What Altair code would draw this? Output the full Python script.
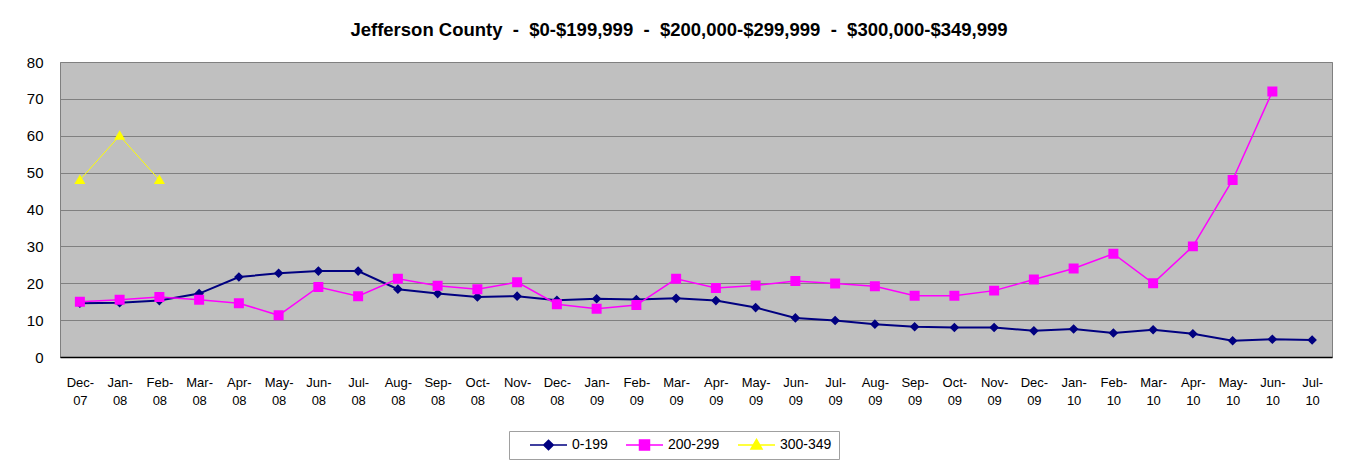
import altair as alt
import pandas as pd

months = ["Dec-07", "Jan-08", "Feb-08", "Mar-08", "Apr-08", "May-08", "Jun-08", "Jul-08",
          "Aug-08", "Sep-08", "Oct-08", "Nov-08", "Dec-08", "Jan-09", "Feb-09", "Mar-09",
          "Apr-09", "May-09", "Jun-09", "Jul-09", "Aug-09", "Sep-09", "Oct-09", "Nov-09",
          "Dec-09", "Jan-10", "Feb-10", "Mar-10", "Apr-10", "May-10", "Jun-10", "Jul-10"]

series_names = ["0-199", "200-299", "300-349"]

v_0_199 = [14.6, 14.7, 15.3, 17.2, 21.7, 22.7, 23.3, 23.3, 18.4, 17.2, 16.3, 16.5, 15.4,
           15.8, 15.6, 15.9, 15.3, 13.4, 10.6, 9.9, 8.9, 8.2, 8.0, 8.0, 7.1,
           7.6, 6.5, 7.4, 6.3, 4.4, 4.8, 4.6]
v_200_299 = [15.0, 15.5, 16.3, 15.5, 14.6, 11.3, 19.0, 16.5, 21.2, 19.3, 18.4, 20.3, 14.3,
             13.1, 14.1, 21.2, 18.7, 19.4, 20.6, 19.9, 19.2, 16.6, 16.6, 18.0, 21.0,
             24.0, 28.0, 20.0, 30.0, 48.0, 72.0, None]
v_300_349 = [48.0, 60.0, 48.0] + [None] * 29

colors = ["#000080", "#FF00FF", "#FFFF00"]
line_widths = [2, 1.5, 1]
marker_paths = [
    "M-1,0H1M0,-0.26L0.26,0L0,0.26L-0.26,0Z",
    "M-1,0H1M-0.27,-0.27H0.27V0.27H-0.27Z",
    "M-1,0H1M0,-0.3L0.3,0.22H-0.3Z",
]

rows = []
for name, vals in zip(series_names, [v_0_199, v_200_299, v_300_349]):
    for m, v in zip(months, vals):
        if v is not None:
            rows.append({"month": m, "series": name, "value": v})
df = pd.DataFrame(rows)

FONT = "Liberation Sans"
NB = "\u00a0"
title_text = f"Jefferson County{NB}{NB}-{NB}{NB}$0-$199,999{NB}{NB}-{NB}{NB}$200,000-$299,999{NB}{NB}-{NB}{NB}$300,000-$349,999"

x_enc = alt.X(
    "month:O", sort=months, scale=alt.Scale(domain=months),
    axis=alt.Axis(title=None, labelAngle=0, ticks=False, grid=False,
                  domainColor="#000000", domainWidth=1.5,
                  labelExpr="[slice(datum.label, 0, 4), slice(datum.label, 4)]",
                  labelFont=FONT, labelFontSize=13, labelColor="#000000",
                  labelPadding=19, labelLineHeight=18, labelOverlap=False,
                  labelFlush=False),
)
y_enc = alt.Y(
    "value:Q", scale=alt.Scale(domain=[0, 80], nice=False),
    axis=alt.Axis(title=None, values=list(range(0, 81, 10)), ticks=False, domain=False,
                  grid=True, gridColor="#808080", gridWidth=1,
                  labelFont=FONT, labelFontSize=15, labelColor="#000000",
                  labelPadding=17),
)

legend_def = alt.Legend(
    title=None, orient="none", legendX=449, legendY=369, direction="horizontal",
    symbolSize=1369, symbolStrokeWidth=1.5, clipHeight=14,
    symbolOffset=13, labelOffset=4, columnPadding=4,
    labelExpr="datum.label == '300-349' ? datum.label + '\u00a0\u00a0\u00a0\u00a0\u00a0\u00a0\u00a0' : datum.label",
    labelFont=FONT, labelFontSize=14, labelColor="#000000",
    strokeColor="#A0A0A0", fillColor="#FFFFFF", padding=7,
)

base = alt.Chart(df)
line_layers = [
    base.transform_filter(alt.datum.series == name).mark_line(color=col, strokeWidth=w).encode(
        x=x_enc, y=y_enc)
    for name, col, w in zip(series_names, colors, line_widths)
]

points = base.mark_point(filled=True, size=1369, opacity=1).encode(
    x=x_enc, y=y_enc,
    fill=alt.Fill("series:N", scale=alt.Scale(domain=series_names, range=colors), legend=legend_def),
    stroke=alt.Stroke("series:N", scale=alt.Scale(domain=series_names, range=colors), legend=legend_def),
    shape=alt.Shape("series:N", scale=alt.Scale(domain=series_names, range=marker_paths), legend=legend_def),
    strokeWidth=alt.value(0),
)

chart = alt.layer(*line_layers, points).properties(
    width=1272, height=295,
    title=alt.TitleParams(
        title_text,
        font=FONT, fontSize=18.5, fontWeight="bold", color="#000000",
        anchor="middle", dx=-17, offset=16,
    ),
    padding={"left": 52, "top": 54, "right": 14, "bottom": 110},
    autosize=alt.AutoSizeParams(type="none"),
).configure(
    background="#FFFFFF",
).configure_view(
    stroke="#808080", fill="#C0C0C0", strokeWidth=1,
)

chart.save("out.html", embed_options={"renderer": "svg", "actions": False})
